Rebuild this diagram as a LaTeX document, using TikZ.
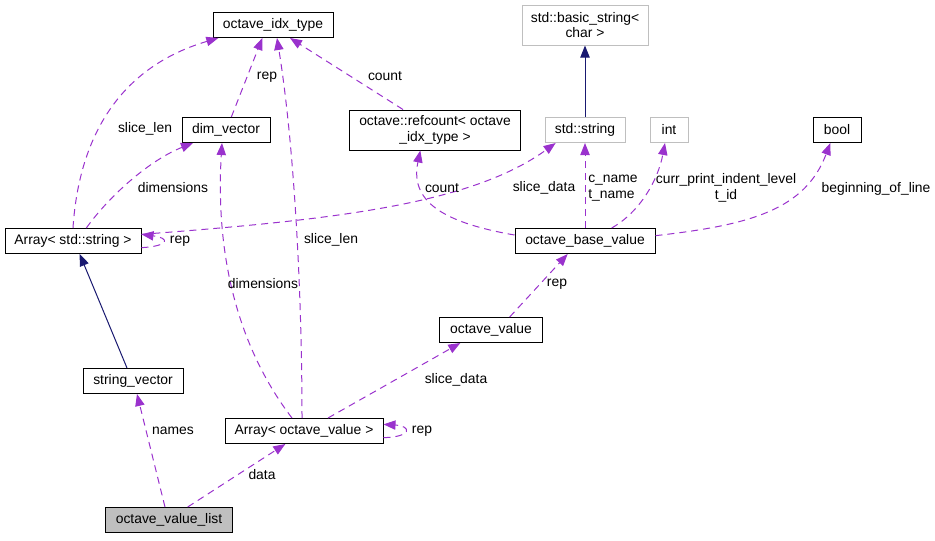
\documentclass[tikz,border=0pt]{standalone}
\usepackage{fontspec}
\setmainfont{Liberation Sans}
\usetikzlibrary{arrows.meta}

\definecolor{memberc}{HTML}{9A32CD}
\definecolor{inheritc}{HTML}{191970}
\definecolor{extc}{HTML}{BFBFBF}

\begin{document}
\begin{tikzpicture}
		[x=0.75pt,y=-0.75pt,every node/.style={font=\fontsize{10.4}{11.5}\selectfont},
		cls/.style={draw=black,line width=0.75pt,minimum height=18.75pt,inner sep=2pt,align=center},
		extcls/.style={cls,draw=extc},
		member/.style={draw=memberc,line width=0.75pt,dash pattern=on 5.25pt off 3.75pt,-{Triangle[length=9pt,width=7pt]}},
		inherit/.style={draw=inheritc,line width=0.75pt,-{Triangle[length=9pt,width=7pt]}},
		lbl/.style={inner sep=0pt,align=center}]
		\useasboundingbox (0,0) rectangle (935,540);
		
		\node[cls,minimum width=90pt] (idx) at (273,25) {octave\_idx\_type};
		\node[extcls,minimum width=94.5pt,minimum height=30pt] (basic) at (585,25) {std::basic\_string<\\char >};
		\node[cls,minimum width=66pt] (dimv) at (226,130) {dim\_vector};
		\node[cls,minimum width=128pt,minimum height=30pt] (refc) at (435,130) {octave::refcount< octave\\\_idx\_type >};
		\node[extcls,minimum width=60pt] (stdstr) at (585,130) {std::string};
		\node[extcls,minimum width=28.5pt] (int) at (669,130) {int};
		\node[cls,minimum width=36pt] (bool) at (837,130) {bool};
		\node[cls,minimum width=102pt] (arrstr) at (73,241) {Array< std::string >};
		\node[cls,minimum width=105pt] (obv) at (585,241) {octave\_base\_value};
		\node[cls,minimum width=77pt] (ov) at (491,330) {octave\_value};
		\node[cls,minimum width=75pt] (strvec) at (133,381) {string\_vector};
		\node[cls,minimum width=118.5pt] (arrov) at (304,431) {Array< octave\_value >};
		\node[cls,minimum width=95pt,fill=extc] (ovl) at (169,520) {octave\_value\_list};
		
		% inheritance
		\draw[inherit] (stdstr) -- (basic);
		\draw[inherit] ([xshift=-4.5pt]strvec.north) -- ([xshift=5pt]arrstr.south);
		
		% members
		\draw[member] (arrstr.north) .. controls (78,150) and (110,70) .. ([xshift=-41pt]idx.south);
		\draw[member] ([xshift=10pt]arrstr.north) .. controls (110,195) and (150,160) .. ([xshift=-24.75pt]dimv.south);
		\draw[member] ([xshift=4pt]dimv.north) -- ([xshift=-8pt]idx.south);
		\draw[member] ([xshift=-1.5pt]arrov.north) .. controls (302,300) and (295,150) .. ([xshift=3pt]idx.south);
		\draw[member] ([xshift=-9pt]arrov.north) .. controls (240,350) and (215,260) .. ([xshift=-3pt]dimv.south);
		\draw[member] ([xshift=-24pt]refc.north) -- ([xshift=12.75pt]idx.south);
		\draw[member] ([yshift=4.5pt]obv.west) .. controls (440,222) and (410,200) .. ([xshift=-11pt]refc.south);
		\draw[member] ([yshift=5pt]arrstr.east) .. controls (330,220) and (470,205) .. ([xshift=-22pt]stdstr.south);
		\draw[member] ([yshift=-5pt]arrstr.east) .. controls (170,246) and (170,238) .. ([yshift=5pt]arrstr.east);
		\draw[member] (obv.north) -- (stdstr.south);
		\draw[member] ([xshift=20pt]obv.north) .. controls (640,212) and (658,180) .. ([xshift=-3pt]int.south);
		\draw[member] ([yshift=4pt]obv.east) .. controls (750,225) and (805,210) .. ([xshift=-5pt]bool.south);
		\draw[member] ([xshift=14pt]ov.north) -- ([xshift=-13pt]obv.south);
		\draw[member] ([xshift=18pt]arrov.north) -- ([xshift=-23pt]ov.south);
		\draw[member] ([yshift=-5pt]arrov.east) .. controls (412,437) and (412,426) .. ([yshift=5pt]arrov.east);
		\draw[member] ([xshift=-3pt]ovl.north) -- ([xshift=3pt]strvec.south);
		\draw[member] ([xshift=14pt]ovl.north) -- ([xshift=-14pt]arrov.south);
		
		% member labels
		\node[lbl] (l1) at (145,129) {slice\_len};
		\node[lbl] (l2) at (267,77) {rep};
		\node[lbl] (l3) at (385,76) {count};
		\node[lbl] (l4) at (173,188) {dimensions};
		\node[lbl] (l5) at (442,188) {count};
		\node[lbl] (l6) at (544,188) {slice\_data};
		\node[lbl,anchor=west,align=left] (l7) at (588,188) {c\_name\\t\_name};
		\node[lbl] (l8) at (726,188) {curr\_print\_indent\_level\\t\_id};
		\node[lbl] (l9) at (876,189) {beginning\_of\_line};
		\node[lbl] (l10) at (180,241) {rep};
		\node[lbl] (l11) at (331,240) {slice\_len};
		\node[lbl] (l12) at (263,284) {dimensions};
		\node[lbl] (l13) at (557,284) {rep};
		\node[lbl] (l14) at (456,380) {slice\_data};
		\node[lbl] (l15) at (173,431) {names};
		\node[lbl] (l16) at (422,431) {rep};
		\node[lbl] (l17) at (262,475) {data};
\end{tikzpicture}
\end{document}
